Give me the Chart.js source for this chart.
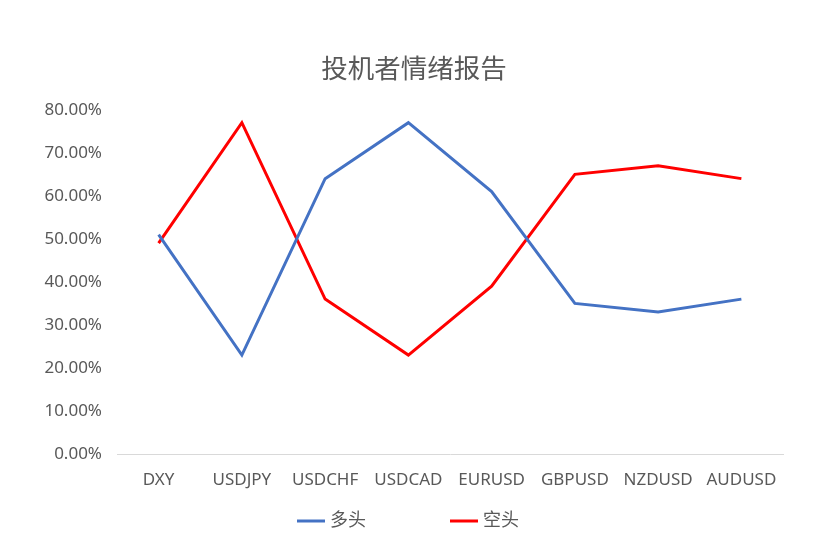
<!DOCTYPE html>
<html>
<head>
<meta charset="utf-8">
<script src="https://cdn.jsdelivr.net/npm/chart.js@4.4.0/dist/chart.umd.min.js"></script>
<style>
  html, body { margin: 0; padding: 0; background: #fff; }
  #wrap { width: 828px; height: 550px; }
</style>
</head>
<body>
<div id="wrap"><canvas id="sentiment" width="828" height="550"></canvas></div>
<script>
const categories = ['DXY', 'USDJPY', 'USDCHF', 'USDCAD', 'EURUSD', 'GBPUSD', 'NZDUSD', 'AUDUSD']
const longValues = [0.51, 0.23, 0.64, 0.77, 0.61, 0.35, 0.33, 0.36]
const shortValues = [0.49, 0.77, 0.36, 0.23, 0.39, 0.65, 0.67, 0.64]
const seriesNames = ['多头', '空头']
const chartTitle = '投机者情绪报告'

const textColor = '#595959'
const fontFamily = '"Noto Sans", "Noto Sans CJK SC", sans-serif'

// legend drawn by hand, the built-in one spaces items too tight
const bottomLegend = {
  id: 'bottomLegend',
  afterDraw(chart) {
    const ctx = chart.ctx
    const starts = [297, 450]
    ctx.save()
    ctx.font = '18px ' + fontFamily
    ctx.textBaseline = 'middle'
    chart.data.datasets.forEach((ds, i) => {
      const x = starts[i]
      const y = 521
      ctx.strokeStyle = ds.borderColor
      ctx.lineWidth = 3
      ctx.beginPath()
      ctx.moveTo(x, y)
      ctx.lineTo(x + 28, y)
      ctx.stroke()
      ctx.fillStyle = textColor
      ctx.fillText(ds.label, x + 33, y)
    })
    ctx.restore()
  }
}

const ctx = document.querySelector('#sentiment').getContext('2d')
const myChart = new Chart(ctx, {
  type: 'line',
  data: {
    labels: categories,
    datasets: [{
      label: seriesNames[0],
      data: longValues,
      borderColor: '#4472C4',
      borderWidth: 3,
      pointRadius: 0,
      tension: 0
    }, {
      label: seriesNames[1],
      data: shortValues,
      borderColor: '#FF0000',
      borderWidth: 3,
      pointRadius: 0,
      tension: 0
    }]
  },
  options: {
    responsive: false,
    animation: false,
    layout: {
      padding: { left: 0, right: 0, top: 0, bottom: 0 }
    },
    plugins: {
      legend: { display: false },
      tooltip: { enabled: false },
      title: {
        display: true,
        text: chartTitle,
        color: textColor,
        font: { family: fontFamily, size: 26.5, weight: 'normal' },
        padding: { top: 55, bottom: 23 }
      }
    },
    scales: {
      x: {
        offset: true,
        grid: { display: false, drawTicks: false },
        border: { color: '#D9D9D9', width: 1 },
        ticks: {
          color: textColor,
          font: { family: fontFamily, size: 17 },
          padding: 16,
          maxRotation: 0
        },
        afterFit: scale => { scale.height = 96 }
      },
      y: {
        min: 0,
        max: 0.8,
        grid: { display: false, drawTicks: false },
        border: { display: false },
        ticks: {
          stepSize: 0.1,
          color: textColor,
          font: { family: fontFamily, size: 17 },
          padding: 15,
          callback: v => (v * 100).toFixed(2) + '%'
        },
        afterFit: scale => { scale.width = 117 }
      },
      // empty right axis, only keeps the plot off the right edge
      yRight: {
        position: 'right',
        min: 0,
        max: 0.8,
        grid: { display: false, drawTicks: false },
        border: { display: false },
        ticks: { display: false },
        afterFit: scale => { scale.width = 45 }
      }
    }
  },
  plugins: [bottomLegend]
})
</script>
</body>
</html>
